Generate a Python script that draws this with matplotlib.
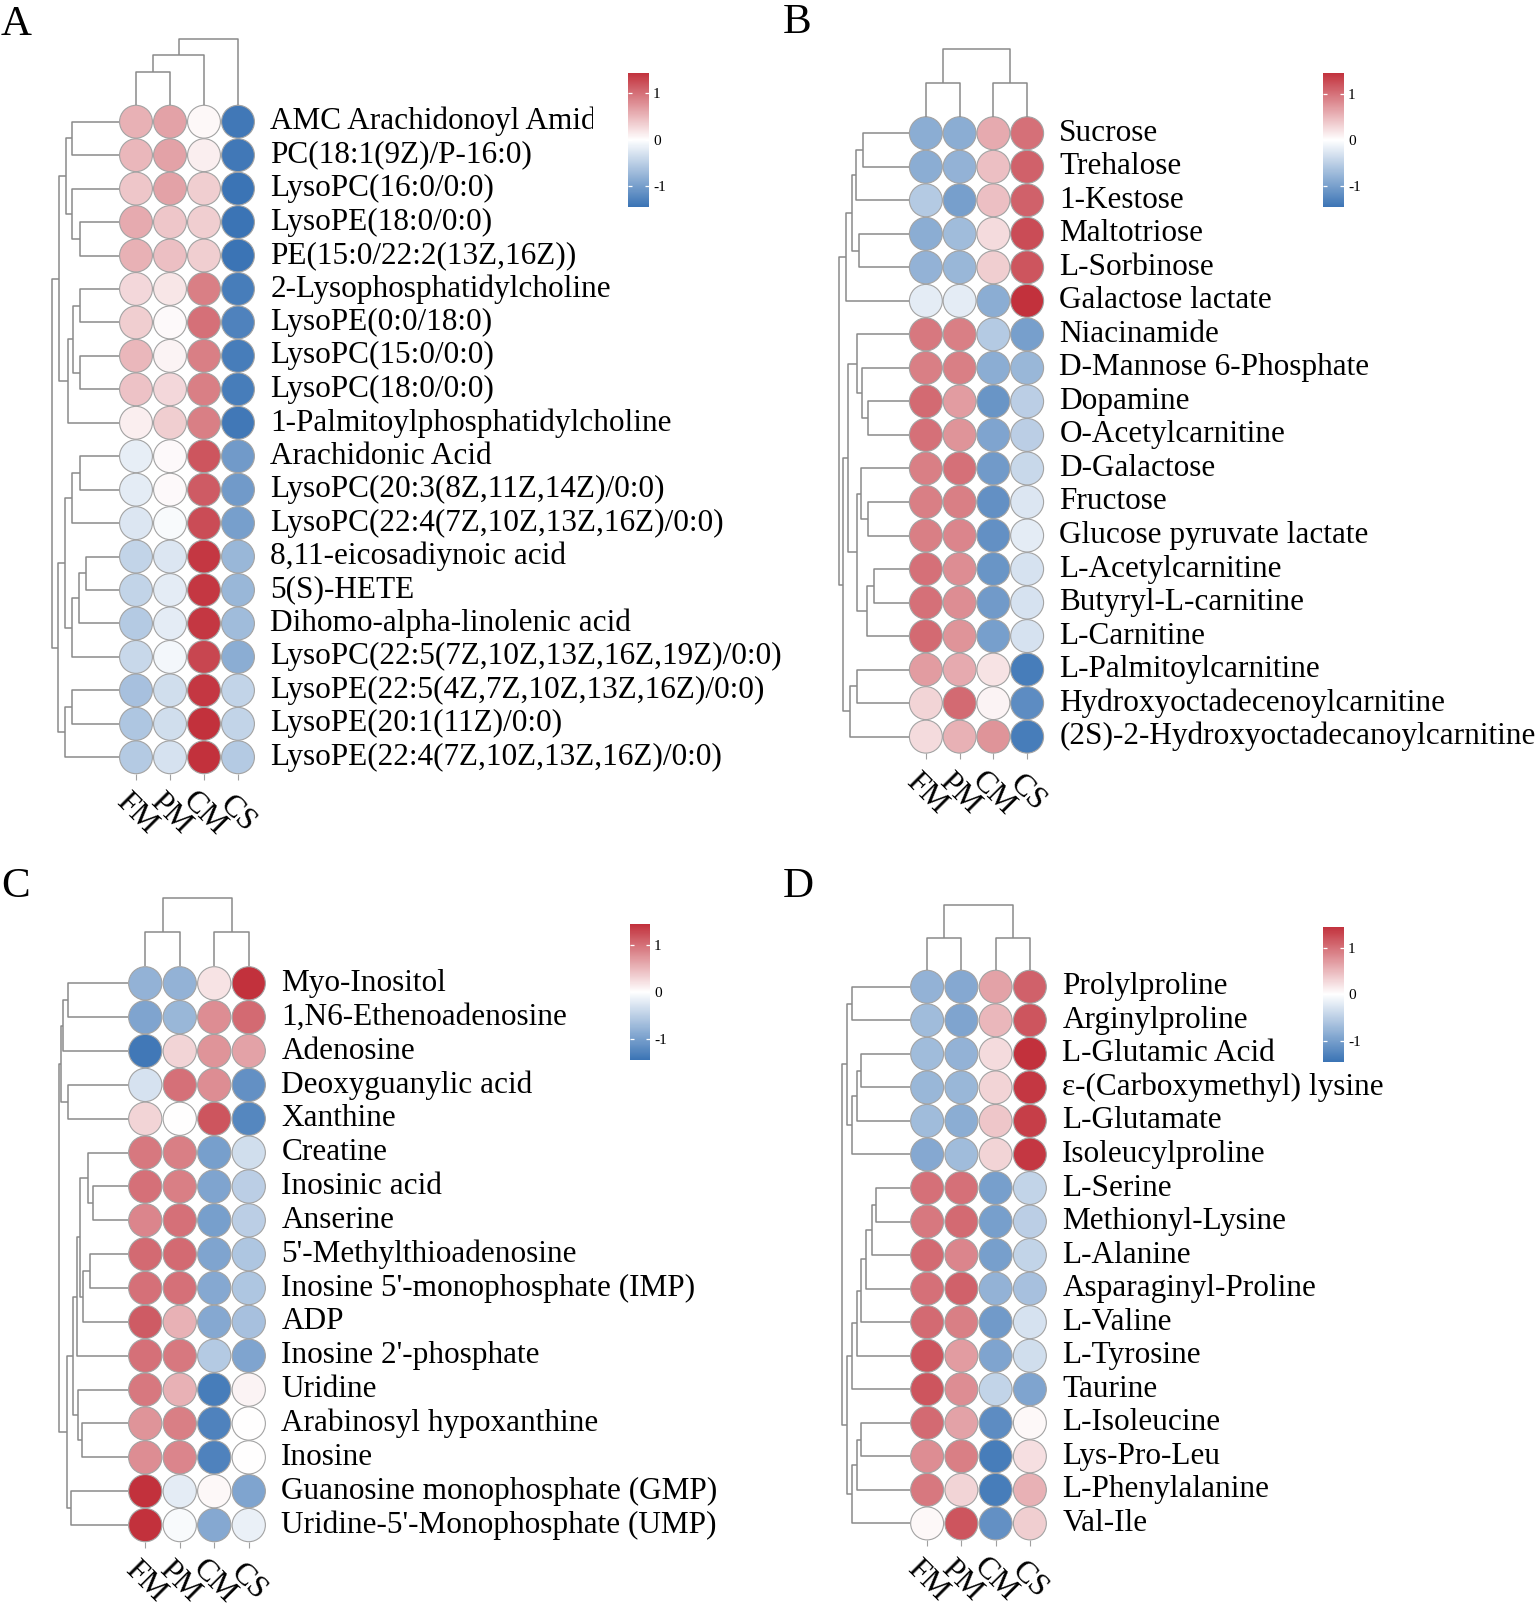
import numpy as np
import matplotlib
matplotlib.use("Agg")
import matplotlib.pyplot as plt
from matplotlib.colors import LinearSegmentedColormap, Normalize
from matplotlib.cm import ScalarMappable
from matplotlib import transforms as mtransforms

plt.rcParams['font.family'] = ['Liberation Serif', 'DejaVu Serif']
plt.rcParams['axes.unicode_minus'] = False

# ---------------- data ----------------
groups = ["FM", "PM", "CM", "CS"]

A_names = ["AMC Arachidonoyl Amide", "PC(18:1(9Z)/P-16:0)", "LysoPC(16:0/0:0)", "LysoPE(18:0/0:0)",
           "PE(15:0/22:2(13Z,16Z))", "2-Lysophosphatidylcholine", "LysoPE(0:0/18:0)", "LysoPC(15:0/0:0)",
           "LysoPC(18:0/0:0)", "1-Palmitoylphosphatidylcholine", "Arachidonic Acid",
           "LysoPC(20:3(8Z,11Z,14Z)/0:0)", "LysoPC(22:4(7Z,10Z,13Z,16Z)/0:0)", "8,11-eicosadiynoic acid",
           "5(S)-HETE", "Dihomo-alpha-linolenic acid", "LysoPC(22:5(7Z,10Z,13Z,16Z,19Z)/0:0)",
           "LysoPE(22:5(4Z,7Z,10Z,13Z,16Z)/0:0)", "LysoPE(20:1(11Z)/0:0)", "LysoPE(22:4(7Z,10Z,13Z,16Z)/0:0)"]
A_values = [[0.55, 0.65, 0.05, -1.40], [0.50, 0.65, 0.12, -1.40], [0.40, 0.65, 0.35, -1.45],
            [0.60, 0.40, 0.35, -1.45], [0.55, 0.45, 0.35, -1.45], [0.28, 0.18, 0.90, -1.35],
            [0.35, 0.04, 1.00, -1.30], [0.50, 0.08, 0.90, -1.35], [0.42, 0.28, 0.90, -1.35],
            [0.12, 0.35, 0.90, -1.40], [-0.18, 0.04, 1.20, -1.05], [-0.20, 0.04, 1.15, -1.05],
            [-0.25, -0.05, 1.25, -1.00], [-0.45, -0.25, 1.40, -0.75], [-0.45, -0.20, 1.40, -0.75],
            [-0.55, -0.20, 1.40, -0.70], [-0.40, -0.08, 1.30, -0.85], [-0.65, -0.35, 1.40, -0.45],
            [-0.60, -0.35, 1.45, -0.45], [-0.55, -0.30, 1.45, -0.55]]
A_row_tree = [[[[0, 1, 48], [2, [3, 4, 40], 48], 54],
               [[[5, 6, 40], [7, 8, 40], 47], 9, 52], 61],
              [[[[10, 11, 40], 12, 48], [[[13, 14, 34], 15, 41], 16, 48], 55],
               [[17, 18, 48], 19, 55], 62], 68]
A_col_tree = [[[0, 1, 33], 2, 50], 3, 66]

B_names = ["Sucrose", "Trehalose", "1-Kestose", "Maltotriose", "L-Sorbinose", "Galactose lactate",
           "Niacinamide", "D-Mannose 6-Phosphate", "Dopamine", "O-Acetylcarnitine", "D-Galactose",
           "Fructose", "Glucose pyruvate lactate", "L-Acetylcarnitine", "Butyryl-L-carnitine",
           "L-Carnitine", "L-Palmitoylcarnitine", "Hydroxyoctadecenoylcarnitine",
           "(2S)-2-Hydroxyoctadecanoylcarnitine"]
B_values = [[-0.85, -0.85, 0.60, 1.00], [-0.85, -0.80, 0.45, 1.10], [-0.55, -1.00, 0.45, 1.10],
            [-0.85, -0.70, 0.25, 1.25], [-0.80, -0.75, 0.35, 1.20], [-0.20, -0.20, -0.85, 1.45],
            [0.95, 0.90, -0.55, -1.00], [0.90, 0.90, -0.85, -0.75], [1.05, 0.70, -1.10, -0.50],
            [1.00, 0.75, -0.95, -0.50], [0.90, 1.00, -1.05, -0.40], [0.90, 0.90, -1.15, -0.25],
            [0.90, 0.85, -1.15, -0.20], [1.00, 0.80, -1.10, -0.30], [1.00, 0.80, -1.05, -0.30],
            [1.05, 0.75, -1.00, -0.30], [0.70, 0.60, 0.20, -1.35], [0.30, 1.05, 0.08, -1.20],
            [0.25, 0.55, 0.75, -1.35]]
B_row_tree = [[[[[0, 1, 46], 2, 53], [3, 4, 50], 57], 5, 63],
              [[[6, [7, [8, 9, 41], 47], 52],
                [[10, [11, 12, 41], 48], [[13, 14, 35], 15, 42], 52], 61],
               [[16, 17, 52], 18, 59], 66], 70]
B_col_tree = [[0, 1, 33], [2, 3, 33], 67]

C_names = ["Myo-Inositol", "1,N6-Ethenoadenosine", "Adenosine", "Deoxyguanylic acid", "Xanthine",
           "Creatine", "Inosinic acid", "Anserine", "5'-Methylthioadenosine",
           "Inosine 5'-monophosphate (IMP)", "ADP", "Inosine 2'-phosphate", "Uridine",
           "Arabinosyl hypoxanthine", "Inosine", "Guanosine monophosphate (GMP)",
           "Uridine-5'-Monophosphate (UMP)"]
C_values = [[-0.80, -0.80, 0.20, 1.45], [-0.95, -0.75, 0.80, 1.05], [-1.40, 0.30, 0.75, 0.65],
            [-0.30, 1.00, 0.80, -1.15], [0.30, 0.00, 1.20, -1.25], [0.95, 0.90, -1.00, -0.35],
            [1.00, 0.90, -0.95, -0.50], [0.85, 1.00, -1.00, -0.50], [1.05, 1.05, -0.95, -0.60],
            [1.00, 1.00, -0.90, -0.60], [1.15, 0.55, -0.90, -0.65], [1.00, 0.95, -0.55, -0.95],
            [0.95, 0.55, -1.35, 0.08], [0.75, 0.90, -1.30, 0.00], [0.80, 0.85, -1.30, 0.00],
            [1.45, -0.20, 0.05, -0.95], [1.45, -0.05, -0.90, -0.15]]
C_row_tree = [[[[0, 1, 60], 2, 65], [3, 4, 60], 67.5],
              [[[[[5, [6, 7, 35], 40], [[8, 9, 38], 10, 45], 48], 11, 51],
                [12, [13, 14, 46], 50], 55], [15, 16, 57], 61], 70]
C_col_tree = [[0, 1, 34.5], [2, 3, 34.5], 68]

D_names = ["Prolylproline", "Arginylproline", "L-Glutamic Acid", "\u03b5-(Carboxymethyl) lysine",
           "L-Glutamate", "Isoleucylproline", "L-Serine", "Methionyl-Lysine", "L-Alanine",
           "Asparaginyl-Proline", "L-Valine", "L-Tyrosine", "Taurine", "L-Isoleucine",
           "Lys-Pro-Leu", "L-Phenylalanine", "Val-Ile"]
D_values = [[-0.80, -0.90, 0.65, 1.10], [-0.70, -0.95, 0.50, 1.20], [-0.70, -0.80, 0.25, 1.45],
            [-0.75, -0.75, 0.30, 1.40], [-0.70, -0.85, 0.40, 1.35], [-0.90, -0.70, 0.30, 1.40],
            [1.00, 1.00, -1.00, -0.45], [0.95, 1.05, -1.00, -0.50], [1.05, 0.85, -1.00, -0.45],
            [1.00, 1.10, -0.80, -0.65], [1.05, 0.90, -1.05, -0.30], [1.20, 0.70, -0.95, -0.35],
            [1.20, 0.80, -0.45, -0.95], [1.05, 0.65, -1.20, 0.05], [0.80, 0.90, -1.35, 0.22],
            [0.95, 0.30, -1.35, 0.55], [0.05, 1.20, -1.15, 0.35]]
D_row_tree = [[[0, 1, 59], [[[2, 3, 49], 4, 54], 5, 59], 64],
              [[[[[[[6, 7, 34.5], 8, 38], 9, 44], 10, 49], 11, 54], 12, 59],
               [[[13, 14, 49], 15, 54], 16, 59], 64], 69]
D_col_tree = [[0, 1, 32], [2, 3, 32], 65]

color_limits = (-1.45, 1.45)
color_ticks = [-1, 0, 1]

# ---------------- layout (pixels) ----------------
W, H = 1535, 1611
panels = [
    dict(letter="A", names=A_names, values=A_values, rtree=A_row_tree, ctree=A_col_tree,
         hm=(119, 105, 255, 774), rd_left=52, cd_top=39, cb=(628, 72.7, 649, 206.7),
         lpos=(1, 35), clip=593),
    dict(letter="B", names=B_names, values=B_values, rtree=B_row_tree, ctree=B_col_tree,
         hm=(909, 116.5, 1044, 753.4), rd_left=839, cd_top=49.3, cb=(1323, 72.7, 1344, 207.3),
         lpos=(783, 33.3), clip=None),
    dict(letter="C", names=C_names, values=C_values, rtree=C_row_tree, ctree=C_col_tree,
         hm=(128, 966.4, 266, 1542), rd_left=58.5, cd_top=898.3, cb=(630, 924, 650, 1060),
         lpos=(1, 896.7), clip=None),
    dict(letter="D", names=D_names, values=D_values, rtree=D_row_tree, ctree=D_col_tree,
         hm=(910, 970, 1047, 1540.2), rd_left=841.7, cd_top=905, cb=(1323, 926.7, 1344, 1061.7),
         lpos=(783, 896.7), clip=None),
]

cmap = LinearSegmentedColormap.from_list("bwr_custom", ["#3B74B5", "#FFFFFF", "#C2313C"])
norm = Normalize(*color_limits)
LINE = "#8a8a8a"
EDGE = "#a3a3a3"

fig = plt.figure(figsize=(W / 100, H / 100), dpi=100)


def px_axes(x0, y0, x1, y1):
    return fig.add_axes([x0 / W, 1 - y1 / H, (x1 - x0) / W, (y1 - y0) / H])


def dendro(node, segs):
    if isinstance(node, (int,)):
        return float(node), 0.0
    left, right, h = node
    pl, hl = dendro(left, segs)
    pr, hr = dendro(right, segs)
    segs.append(([pl, pl, pr, pr], [hl, h, h, hr]))
    return (pl + pr) / 2.0, h


for p in panels:
    x0, y0, x1, y1 = p["hm"]
    vals = np.array(p["values"])
    n, m = vals.shape
    cw = (x1 - x0) / m
    ch = (y1 - y0) / n
    diam_pt = (min(cw, ch) - 0.6) * 72 / 100

    ax = px_axes(x0, y0, x1, y1)
    cols, rows = np.meshgrid(np.arange(m), np.arange(n))
    ax.scatter(cols.ravel(), rows.ravel(), c=vals.ravel(), cmap=cmap, norm=norm,
               s=diam_pt ** 2, edgecolors=EDGE, linewidths=0.8, zorder=3, clip_on=False)
    ax.set_xlim(-0.5, m - 0.5)
    ax.set_ylim(n - 0.5, -0.5)
    for s in ax.spines.values():
        s.set_visible(False)
    ax.set_yticks([])
    ax.set_xticks(range(m))
    ax.set_xticklabels([])
    ax.tick_params(axis="x", length=4.5, width=0.8, color="#a0a0a0", direction="out")

    # row labels
    off = mtransforms.ScaledTranslation(11.0 / 72, 0, fig.dpi_scale_trans)
    for i, name in enumerate(p["names"]):
        t = ax.text(1.0, i, name, transform=ax.get_yaxis_transform() + off,
                    ha="left", va="center", fontsize=22.5, color="black")
        if p["clip"] is not None and i == 0:
            t.set_clip_on(True)
            t.set_clip_path(None)
            t.set_clip_box(mtransforms.TransformedBbox(
                mtransforms.Bbox([[0, 0], [p["clip"] / W, 1]]), fig.transFigure))

    # column labels
    offc = mtransforms.ScaledTranslation(0, -40 / 100, fig.dpi_scale_trans)
    for j, g in enumerate(groups):
        ax.text(j, 0.0, g, transform=ax.get_xaxis_transform() + offc, rotation=-45,
                ha="center", va="center", fontsize=22.5, color="black")

    # row dendrogram
    rax = px_axes(p["rd_left"], y0, x0, y1)
    segs = []
    dendro(p["rtree"], segs)
    root_h = p["rtree"][2]
    for ps, hs in segs:
        rax.plot(hs, ps, color=LINE, lw=1.1, clip_on=False, solid_capstyle="butt")
    rax.set_xlim(root_h, 0)
    rax.set_ylim(n - 0.5, -0.5)
    rax.axis("off")

    # column dendrogram
    cax_d = px_axes(x0, p["cd_top"], x1, y0)
    segs = []
    dendro(p["ctree"], segs)
    root_h = p["ctree"][2]
    for ps, hs in segs:
        cax_d.plot(ps, hs, color=LINE, lw=1.1, clip_on=False, solid_capstyle="butt")
    cax_d.set_xlim(-0.5, m - 0.5)
    cax_d.set_ylim(0, root_h)
    cax_d.axis("off")

    # colorbar
    cb = p["cb"]
    cbax = px_axes(*cb)
    cbar = fig.colorbar(ScalarMappable(norm=norm, cmap=cmap), cax=cbax, ticks=color_ticks)
    cbar.outline.set_visible(False)
    cbar.set_ticklabels([str(t) for t in color_ticks])
    cbax.yaxis.set_ticks_position("both")
    cbax.tick_params(axis="y", which="major", direction="in", color="white", length=3,
                     width=0.9, left=True, right=True, labelleft=False, labelright=True,
                     labelsize=11, pad=3)

    # panel letter
    fig.text(p["lpos"][0] / W, 1 - p["lpos"][1] / H, p["letter"], fontsize=31,
             ha="left", va="baseline", color="black")

fig.savefig("out.png", dpi=100, facecolor="white")
